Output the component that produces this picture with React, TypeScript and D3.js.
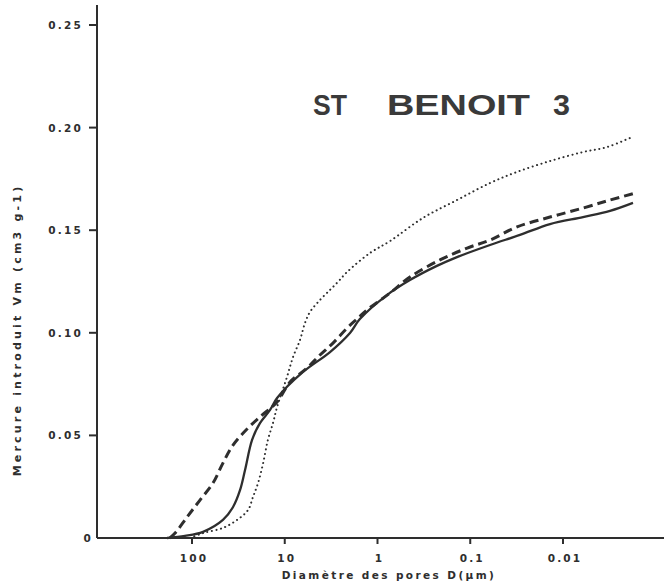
import React from "react";
import * as d3 from "d3";

const TITLE_WORDS = ["ST", "BENOIT", "3"];
const X_TITLE = "Diamètre des pores D(µm)";
const Y_TITLE = "Mercure introduit Vm (cm3 g-1)";

const xTickValues = [100, 10, 1, 0.1, 0.01];
const xTickLabels = ["100", "10", "1", "0.1", "0.01"];
const yTickValues = [0, 0.05, 0.1, 0.15, 0.2, 0.25];
const yTickLabels = ["0", "0.05", "0.10", "0.15", "0.20", "0.25"];

// Solid curve: pore diameter (µm) and intruded volume (cm3/g)
const solidD = [186, 119, 76, 46.4, 36.1, 30.3, 26.8, 22.5, 18.5, 14.4, 12.1, 6.35, 3.25, 1.98, 1.55, 0.79, 0.447, 0.229, 0.139, 0.0612, 0.0291, 0.0138, 0.00608, 0.00311, 0.00176];
const solidV = [0, 0.001, 0.003, 0.0088, 0.0151, 0.0234, 0.0331, 0.0478, 0.056, 0.0624, 0.0682, 0.0809, 0.0906, 0.0999, 0.1067, 0.1184, 0.1257, 0.1326, 0.1369, 0.1428, 0.1477, 0.153, 0.1564, 0.1594, 0.1633];

// Dashed curve
const dashedD = [173, 152, 113, 82, 59.4, 46.4, 36.1, 25.5, 18.5, 12.1, 8.77, 5.76, 4.17, 3.02, 2.13, 1.62, 1.3, 0.733, 0.447, 0.212, 0.108, 0.0612, 0.0313, 0.0138, 0.00608, 0.00311, 0.00167];
const dashedV = [0, 0.0024, 0.0102, 0.0185, 0.0268, 0.0365, 0.0453, 0.0531, 0.059, 0.0663, 0.076, 0.0828, 0.0892, 0.095, 0.1023, 0.1072, 0.1111, 0.1194, 0.1272, 0.1355, 0.1413, 0.1452, 0.1516, 0.1564, 0.1608, 0.1647, 0.1681];

// Dotted curve
const dottedD = [105, 76, 46.4, 32.7, 24.9, 22, 19.4, 17.1, 15.2, 13.4, 12.1, 9.46, 8.14, 6.85, 6.05, 5.35, 4.17, 3.25, 2.67, 2.13, 1.205, 0.733, 0.323, 0.139, 0.0612, 0.0313, 0.0138, 0.00608, 0.00336, 0.0018];
const dottedV = [0, 0.0024, 0.0049, 0.0088, 0.0136, 0.02, 0.0268, 0.0365, 0.0478, 0.056, 0.0638, 0.0785, 0.0882, 0.0965, 0.1048, 0.1101, 0.116, 0.1209, 0.1248, 0.1296, 0.1389, 0.1447, 0.156, 0.1647, 0.173, 0.1784, 0.1837, 0.1881, 0.1905, 0.1954];

const INK = "#2e2e2e";
const LABEL_FONT = "'DejaVu Sans', sans-serif";

export default function App() {
  const x = d3.scaleLog().domain([1000, 0.01]).range([99.25, 563]);
  const y = d3.scaleLinear().domain([0, 0.25]).range([538, 25]);
  const axisX = 97;
  const axisY = 538;

  const line = d3
    .line<[number, number]>()
    .x((d) => x(d[0]))
    .y((d) => y(d[1]))
    .curve(d3.curveCatmullRom.alpha(0.5));

  const zip = (a: number[], b: number[]) => a.map((v, i) => [v, b[i]] as [number, number]);

  const titleX = [313, 387, 553];
  const titleLen = [34, 143, 17];

  return (
    <svg
      width={666}
      height={588}
      style={{ position: "absolute", left: 0, top: 0, background: "#fff" }}
    >
      <rect x={0} y={0} width={666} height={588} fill="#fff" />
      {/* curves */}
      <path d={line(zip(solidD, solidV)) || ""} fill="none" stroke={INK} strokeWidth={2.3} />
      <path
        d={line(zip(dashedD, dashedV)) || ""}
        fill="none"
        stroke={INK}
        strokeWidth={3}
        strokeDasharray="9 5"
      />
      <path
        d={line(zip(dottedD, dottedV)) || ""}
        fill="none"
        stroke={INK}
        strokeWidth={2}
        strokeLinecap="round"
        strokeDasharray="0.1 4.5"
      />
      {/* axes */}
      <line x1={axisX} y1={5} x2={axisX} y2={axisY} stroke={INK} strokeWidth={2} />
      <line x1={axisX} y1={axisY} x2={664} y2={axisY} stroke={INK} strokeWidth={2} />
      {yTickValues.map((v, i) => (
        <g key={"y" + i}>
          {v !== 0 && (
            <line x1={axisX - 8} x2={axisX} y1={y(v)} y2={y(v)} stroke={INK} strokeWidth={2} />
          )}
          <text
            x={v === 0 ? axisX - 4 : axisX - 14}
            y={y(v) + 4}
            textAnchor="end"
            fontFamily={LABEL_FONT}
            fontWeight="bold"
            fontSize={10.5}
            letterSpacing={2.2}
            fill={INK}
          >
            {yTickLabels[i]}
          </text>
        </g>
      ))}
      {xTickValues.map((v, i) => (
        <g key={"x" + i}>
          <line x1={x(v)} x2={x(v)} y1={axisY} y2={axisY + 6} stroke={INK} strokeWidth={2} />
          <text
            x={x(v) + 2}
            y={562}
            textAnchor="middle"
            fontFamily={LABEL_FONT}
            fontWeight="bold"
            fontSize={10.5}
            letterSpacing={2.2}
            fill={INK}
          >
            {xTickLabels[i]}
          </text>
        </g>
      ))}
      <text
        x={389}
        y={579}
        textAnchor="middle"
        fontFamily={LABEL_FONT}
        fontWeight="bold"
        fontSize={10.5}
        letterSpacing={2.4}
        fill={INK}
      >
        {X_TITLE}
      </text>
      <text
        transform="translate(21,330) rotate(-90)"
        textAnchor="middle"
        fontFamily={LABEL_FONT}
        fontWeight="bold"
        fontSize={11}
        letterSpacing={3.2}
        fill={INK}
      >
        {Y_TITLE}
      </text>
      {TITLE_WORDS.map((w, i) => (
        <text
          key={"t" + i}
          x={titleX[i]}
          y={115}
          fontFamily="'Liberation Sans', Arial, sans-serif"
          fontWeight="bold"
          fontSize={29}
          textLength={titleLen[i]}
          lengthAdjust="spacingAndGlyphs"
          fill="#3a3a3a"
        >
          {w}
        </text>
      ))}
    </svg>
  );
}
